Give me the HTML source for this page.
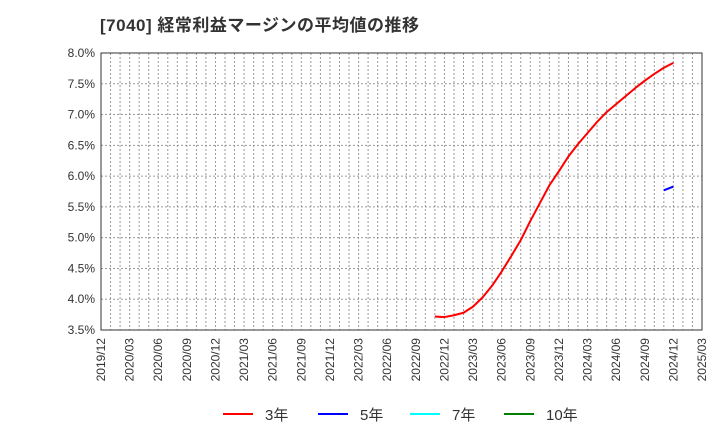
<!DOCTYPE html>
<html><head><meta charset="utf-8"><style>
body{margin:0;background:#fff;}
svg text{font-family:"Liberation Sans","Noto Sans CJK JP",sans-serif;}
</style></head><body>
<svg id="chart" width="720" height="440" xmlns="http://www.w3.org/2000/svg">
<text x="100" y="31" font-size="17" font-weight="bold" letter-spacing="0.5" fill="#333">[7040]  経常利益マージンの平均値の推移</text>
<g id="grid"></g><g id="axes"></g><g id="series"></g>
<g>
<line x1="223" y1="414" x2="253" y2="414" stroke="#f00" stroke-width="2"/>
<text x="265" y="420" font-size="15" fill="#333">3年</text>
<line x1="318" y1="414" x2="348" y2="414" stroke="#00f" stroke-width="2"/>
<text x="360" y="420" font-size="15" fill="#333">5年</text>
<line x1="410" y1="414" x2="440" y2="414" stroke="#0ff" stroke-width="2"/>
<text x="452" y="420" font-size="15" fill="#333">7年</text>
<line x1="504" y1="414" x2="534" y2="414" stroke="#008000" stroke-width="2"/>
<text x="546" y="420" font-size="15" fill="#333">10年</text>
</g>
</svg>
<script>
const xTickLabels=["2019/12","2020/03","2020/06","2020/09","2020/12","2021/03","2021/06","2021/09","2021/12","2022/03","2022/06","2022/09","2022/12","2023/03","2023/06","2023/09","2023/12","2024/03","2024/06","2024/09","2024/12","2025/03"];
const yTickValues=[3.5,4.0,4.5,5.0,5.5,6.0,6.5,7.0,7.5,8.0];
const series3Start=35;
const series3=[3.72,3.71,3.74,3.78,3.88,4.03,4.22,4.45,4.70,4.96,5.27,5.56,5.85,6.08,6.32,6.52,6.70,6.88,7.04,7.17,7.30,7.43,7.55,7.66,7.76,7.84];
const series5Start=59;
const series5=[5.77,5.83];
const L=101,R=702,T=53,B=330,NM=63,YMIN=3.5,YMAX=8.0;
const sx=m=>L+(R-L)*m/NM;
const sy=v=>B-(B-T)*(v-YMIN)/(YMAX-YMIN);
const NS="http://www.w3.org/2000/svg";
function mk(tag,attrs,parent){const e=document.createElementNS(NS,tag);for(const k in attrs)e.setAttribute(k,attrs[k]);parent.appendChild(e);return e;}
const grid=document.getElementById('grid'),axes=document.getElementById('axes'),ser=document.getElementById('series');
for(let m=1;m<NM;m++){const l=mk('line',{x1:sx(m),x2:sx(m),y1:T,y2:B,stroke:'#999','stroke-dasharray':'2,2','stroke-width':1},grid);

}
yTickValues.forEach(v=>{const y=sy(v);
if(v>YMIN&&v<YMAX){const l=mk('line',{x1:L,x2:R,y1:y,y2:y,stroke:'#999','stroke-dasharray':'2,2','stroke-width':1},grid);

}
const t=mk('text',{x:L-6,y:y+4,'text-anchor':'end','font-size':12,fill:'#333'},axes);t.textContent=v.toFixed(1)+'%';

});
xTickLabels.forEach((s,i)=>{const x=sx(i*3);
const t=mk('text',{x:0,y:0,transform:`translate(${x+4},${B+8}) rotate(-90)`,'text-anchor':'end','font-size':12,fill:'#333'},axes);t.textContent=s;

});
const box=mk('rect',{x:L,y:T,width:R-L,height:B-T,fill:'none',stroke:'#333','stroke-width':1},axes);


function line(data,start,color,name){const pts=data.map((v,i)=>sx(start+i)+','+sy(v)).join(' ');
const p=mk('polyline',{points:pts,fill:'none',stroke:color,'stroke-width':2,'stroke-linejoin':'round'},ser);

}
line(series3,series3Start,'#f00','series-3y');
line(series5,series5Start,'#00f','series-5y');
</script>
</body></html>
